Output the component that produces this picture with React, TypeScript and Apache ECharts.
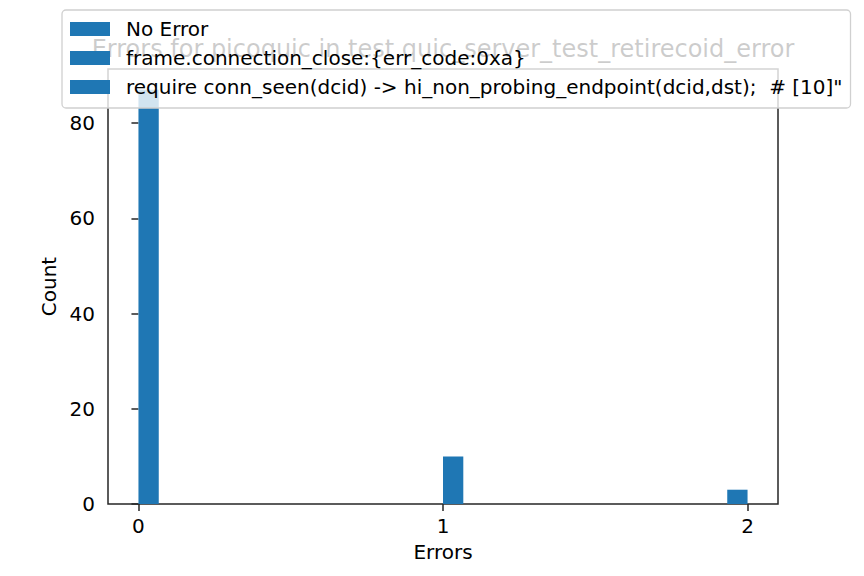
import React, { useEffect, useRef } from "react";
import * as echarts from "echarts";

const titleText = "Errors for picoquic in test quic_server_test_retirecoid_error";
const errorLabels = [
  "No Error",
  "frame.connection_close:{err_code:0xa}",
  'require conn_seen(dcid) -> hi_non_probing_endpoint(dcid,dst);  # [10]"',
];
const errorValues = [0, 1, 2];
const counts = [87, 10, 3];
const binCount = 30;
const binRange = [0, 2];
const xTicks = [0, 1, 2];
const yTicks = [0, 20, 40, 60, 80];

const BLUE = "#1f77b4";
const FONT = "DejaVu Sans";
const AXIS = "#262626";

export default function App() {
  const ref = useRef<HTMLDivElement>(null);
  useEffect(() => {
    if (!ref.current) return;
    const chart = echarts.init(ref.current, null, { renderer: "svg" });
    const binW = (binRange[1] - binRange[0]) / binCount;
    const span = binRange[1] - binRange[0];
    const maxCount = Math.max(...counts);

    const series = errorLabels.map((name, i) => {
      const v = errorValues[i];
      let idx = Math.floor((v - binRange[0]) / binW + 1e-9);
      if (idx >= binCount) idx = binCount - 1;
      const x0 = binRange[0] + idx * binW;
      const x1 = x0 + binW;
      return {
        type: "custom",
        name,
        z: 2,
        itemStyle: { color: BLUE },
        encode: { x: [0, 1], y: 2 },
        data: [[x0, x1, counts[i]]],
        renderItem: (params: any, api: any) => {
          const p0 = api.coord([api.value(0), api.value(2)]);
          const p1 = api.coord([api.value(1), 0]);
          return {
            type: "rect",
            shape: { x: p0[0], y: p0[1], width: p1[0] - p0[0], height: p1[1] - p0[1] },
            style: { fill: BLUE },
          };
        },
      };
    });

    chart.setOption({
      animation: false,
      color: [BLUE],
      textStyle: { fontFamily: FONT },
      grid: {
        left: 108,
        top: 69,
        width: 670,
        height: 435,
        show: true,
        borderColor: AXIS,
        borderWidth: 1.5,
        backgroundColor: "transparent",
        z: 0,
      },
      graphic: [
        {
          type: "text",
          z: 1,
          x: 443,
          y: 49,
          style: {
            text: titleText,
            fontSize: 24,
            fontFamily: FONT,
            fill: "#000",
            align: "center",
            verticalAlign: "middle",
          },
        },
      ],
      legend: {
        z: 20,
        orient: "vertical",
        left: 62,
        top: 10,
        padding: [9, 8, 11, 8],
        itemWidth: 40,
        itemHeight: 14,
        itemGap: 9,
        icon: "rect",
        backgroundColor: "rgba(255,255,255,0.8)",
        borderColor: "#d0d0d0",
        borderWidth: 1.3,
        borderRadius: 4,
        data: errorLabels,
        textStyle: {
          fontSize: 20,
          fontFamily: FONT,
          color: "#000",
          lineHeight: 14,
          padding: [0, 0, 0, 11],
        },
      },
      xAxis: {
        type: "value",
        min: binRange[0] - span * 0.05,
        max: binRange[1] + span * 0.05,
        name: "Errors",
        nameLocation: "middle",
        nameGap: 38,
        nameTextStyle: { fontSize: 20, fontFamily: FONT, color: "#000" },
        splitLine: { show: false },
        axisLine: { show: false },
        axisTick: {
          show: true,
          length: 7,
          customValues: xTicks,
          lineStyle: { color: AXIS, width: 1.5 },
        },
        axisLabel: {
          customValues: xTicks,
          margin: 12,
          fontSize: 20,
          fontFamily: FONT,
          color: "#000",
        },
      },
      yAxis: {
        type: "value",
        min: 0,
        max: maxCount * 1.05,
        name: "Count",
        nameLocation: "middle",
        nameGap: 47,
        nameTextStyle: { fontSize: 20, fontFamily: FONT, color: "#000" },
        splitLine: { show: false },
        axisLine: { show: false },
        axisTick: {
          show: true,
          length: 7,
          customValues: yTicks,
          lineStyle: { color: AXIS, width: 1.5 },
        },
        axisLabel: {
          customValues: yTicks,
          margin: 13,
          fontSize: 20,
          fontFamily: FONT,
          color: "#000",
        },
      },
      series,
    });
    return () => chart.dispose();
  }, []);
  return (
    <div
      ref={ref}
      style={{ position: "fixed", left: 0, top: 0, width: 864, height: 576, background: "#fff" }}
    />
  );
}
